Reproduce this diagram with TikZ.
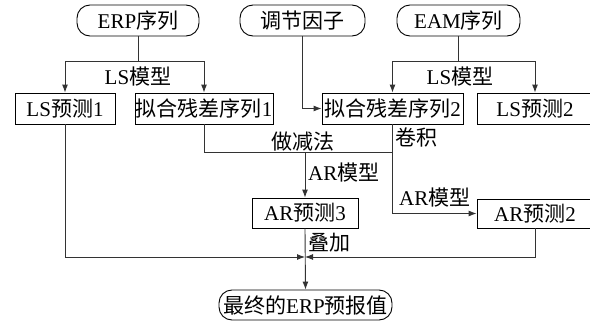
\documentclass[tikz,border=0pt]{standalone}
\usepackage{fontspec}
\setmainfont{Liberation Serif}
\newfontfamily\cjk{Noto Sans CJK SC}
\usetikzlibrary{arrows.meta}
\begin{document}
\begin{tikzpicture}[x=1pt,y=-1pt,
  box/.style={draw=black, line width=0.9pt, minimum height=31pt, inner sep=0pt, font=\fontsize{21}{24}\selectfont},
  rbox/.style={box, rounded corners=13pt},
  conn/.style={draw=black!80, line width=0.9pt},
  arr/.style={conn, -{Latex[length=8pt,width=6pt]}},
  lab/.style={inner sep=0pt, font=\fontsize{21}{24}\selectfont}]
\fill[white] (0,0) rectangle (590,324);
\useasboundingbox (0,0) rectangle (590,324);

% top inputs
\node[rbox, minimum width=122pt] (erp) at (138,20.5) {ERP{\cjk 序列}};
\node[rbox, minimum width=125pt] (tiao) at (302.5,20.5) {{\cjk 调节因子}};
\node[rbox, minimum width=123pt] (eam) at (458.5,20.5) {EAM{\cjk 序列}};

% second row
\node[box, minimum width=100pt] (ls1) at (65,108.5) {LS{\cjk 预测}1};
\node[box, minimum width=138pt] (fit1) at (204,108.5) {{\cjk 拟合残差序列}1};
\node[box, minimum width=141pt] (fit2) at (392.5,108.5) {{\cjk 拟合残差序列}2};
\node[box, minimum width=116pt] (ls2) at (535,108.5) {LS{\cjk 预测}2};

% third row
\node[box, minimum width=106pt, minimum height=30pt] (ar3) at (305,213) {AR{\cjk 预测}3};
\node[box, minimum width=116pt, minimum height=29pt] (ar2) at (535,213.5) {AR{\cjk 预测}2};

% output
\node[rbox, minimum width=173pt, minimum height=30pt] (final) at (305.5,305) {{\cjk 最终的}ERP{\cjk 预报值}};

% junctions
\coordinate (erpj) at (138,61);
\coordinate (eamj) at (458.5,61);
\coordinate (sub) at (305,152);
\coordinate (merge) at (305,257);

% LS model from ERP
\draw[conn] (erp.south) -- (erpj);
\draw[arr] (erpj) -| (ls1.north);
\draw[arr] (erpj) -| (fit1.north);
\node[lab] (lsm1) at (138,77) {LS{\cjk 模型}};

% LS model from EAM
\draw[conn] (eam.south) -- (eamj);
\draw[arr] (eamj) -| (fit2.north);
\draw[arr] (eamj) -| (ls2.north);
\node[lab] (lsm2) at (460,77) {LS{\cjk 模型}};

% adjustment factor
\draw[arr] (tiao.south) |- (fit2.west);

% subtraction
\draw[conn] (fit1.south) |- (fit2.south |- sub);
\node[lab] (jian) at (303,142) {{\cjk 做减法}};
\draw[arr] (sub) -- (ar3.north);
\node[lab, anchor=west] (arm1) at (308,173) {AR{\cjk 模型}};

% convolution
\draw[arr] (fit2.south) |- (ar2.west);
\node[lab, anchor=west] (juan) at (395,137) {{\cjk 卷积}};
\node[lab, anchor=west] (arm2) at (399,198) {AR{\cjk 模型}};

% superposition
\draw[arr] (ls1.south) |- (merge);
\draw[arr] (ar2.south) |- (merge);
\draw[arr] (ar3.south) -- (final.north);
\node[lab, anchor=west] (die) at (308,243) {{\cjk 叠加}};
\end{tikzpicture}
\end{document}
